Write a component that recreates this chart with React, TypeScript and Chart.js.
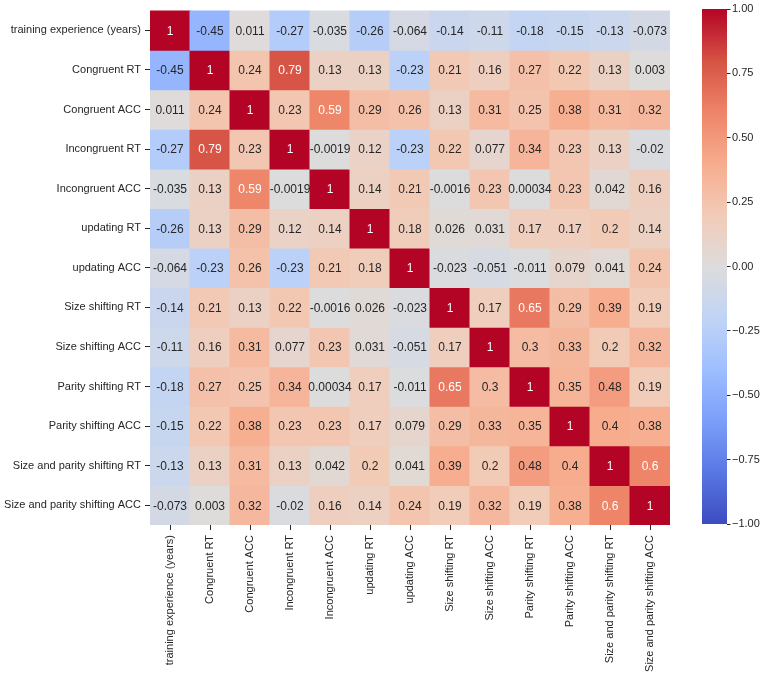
import React, { useEffect, useRef } from "react";
import { Chart, registerables } from "chart.js";
Chart.register(...registerables);

const labels = [
  "training experience (years)",
  "Congruent RT",
  "Congruent ACC",
  "Incongruent RT",
  "Incongruent ACC",
  "updating RT",
  "updating ACC",
  "Size shifting RT",
  "Size shifting ACC",
  "Parity shifting RT",
  "Parity shifting ACC",
  "Size and parity shifting RT",
  "Size and parity shifting ACC",
];

const rowTraining = [1, -0.45, 0.011, -0.27, -0.035, -0.26, -0.064, -0.14, -0.11, -0.18, -0.15, -0.13, -0.073];
const rowCongRT = [-0.45, 1, 0.24, 0.79, 0.13, 0.13, -0.23, 0.21, 0.16, 0.27, 0.22, 0.13, 0.003];
const rowCongACC = [0.011, 0.24, 1, 0.23, 0.59, 0.29, 0.26, 0.13, 0.31, 0.25, 0.38, 0.31, 0.32];
const rowIncongRT = [-0.27, 0.79, 0.23, 1, -0.0019, 0.12, -0.23, 0.22, 0.077, 0.34, 0.23, 0.13, -0.02];
const rowIncongACC = [-0.035, 0.13, 0.59, -0.0019, 1, 0.14, 0.21, -0.0016, 0.23, 0.00034, 0.23, 0.042, 0.16];
const rowUpdRT = [-0.26, 0.13, 0.29, 0.12, 0.14, 1, 0.18, 0.026, 0.031, 0.17, 0.17, 0.2, 0.14];
const rowUpdACC = [-0.064, -0.23, 0.26, -0.23, 0.21, 0.18, 1, -0.023, -0.051, -0.011, 0.079, 0.041, 0.24];
const rowSizeRT = [-0.14, 0.21, 0.13, 0.22, -0.0016, 0.026, -0.023, 1, 0.17, 0.65, 0.29, 0.39, 0.19];
const rowSizeACC = [-0.11, 0.16, 0.31, 0.077, 0.23, 0.031, -0.051, 0.17, 1, 0.3, 0.33, 0.2, 0.32];
const rowParRT = [-0.18, 0.27, 0.25, 0.34, 0.00034, 0.17, -0.011, 0.65, 0.3, 1, 0.35, 0.48, 0.19];
const rowParACC = [-0.15, 0.22, 0.38, 0.23, 0.23, 0.17, 0.079, 0.29, 0.33, 0.35, 1, 0.4, 0.38];
const rowSPRT = [-0.13, 0.13, 0.31, 0.13, 0.042, 0.2, 0.041, 0.39, 0.2, 0.48, 0.4, 1, 0.6];
const rowSPACC = [-0.073, 0.003, 0.32, -0.02, 0.16, 0.14, 0.24, 0.19, 0.32, 0.19, 0.38, 0.6, 1];

const rows = [
  rowTraining, rowCongRT, rowCongACC, rowIncongRT, rowIncongACC, rowUpdRT, rowUpdACC,
  rowSizeRT, rowSizeACC, rowParRT, rowParACC, rowSPRT, rowSPACC,
];

const coolwarmStops = [
  "#3b4cc0", "#5977e3", "#7b9ff9", "#9ebeff", "#c0d4f5", "#dddcdc",
  "#f2cbb7", "#f7ac8e", "#ee8468", "#d65244", "#b40426",
];

const FONT = '"Liberation Sans", Arial, sans-serif';
const TEXT = "#262626";

function hexToRgb(h: string) {
  return [parseInt(h.slice(1, 3), 16), parseInt(h.slice(3, 5), 16), parseInt(h.slice(5, 7), 16)];
}
function rgbOf(v: number) {
  const t = Math.max(0, Math.min(1, (v + 1) / 2));
  const pos = t * 10;
  const i = Math.min(9, Math.floor(pos));
  const f = pos - i;
  const a = hexToRgb(coolwarmStops[i]);
  const b = hexToRgb(coolwarmStops[i + 1]);
  return a.map((c, k) => Math.round(c + (b[k] - c) * f));
}
function coolwarm(v: number) {
  const [r, g, b] = rgbOf(v);
  return `rgb(${r},${g},${b})`;
}
function textColor(v: number) {
  const lin = rgbOf(v).map((c) => {
    const s = c / 255;
    return s <= 0.03928 ? s / 12.92 : Math.pow((s + 0.055) / 1.055, 2.4);
  });
  const lum = 0.2126 * lin[0] + 0.7152 * lin[1] + 0.0722 * lin[2];
  return lum > 0.408 ? TEXT : "#ffffff";
}
function fmt(v: number) {
  return String(Number(v.toPrecision(2)));
}

const annotatePlugin = {
  id: "annot",
  afterDatasetsDraw(chart: any) {
    const ctx = chart.ctx;
    ctx.save();
    ctx.font = `12px ${FONT}`;
    ctx.textAlign = "center";
    ctx.textBaseline = "middle";
    chart.data.datasets.forEach((_ds: any, r: number) => {
      const meta = chart.getDatasetMeta(r);
      meta.data.forEach((el: any, c: number) => {
        const v = rows[r][c];
        const p = el.getProps(["x", "y", "base"], true);
        ctx.fillStyle = textColor(v);
        ctx.fillText(fmt(v), p.x, (p.y + p.base) / 2 + 1);
      });
    });
    ctx.restore();
  },
};

export default function App() {
  const mainRef = useRef<HTMLCanvasElement>(null);
  const barRef = useRef<HTMLCanvasElement>(null);

  useEffect(() => {
    const datasets = rows.map((row, r) => ({
      label: labels[r],
      data: row.map(() => 1),
      backgroundColor: row.map((v) => coolwarm(v)),
      borderWidth: 0,
      barPercentage: 1,
      categoryPercentage: 1,
      inflateAmount: 0.5,
      stack: "s",
    }));

    const main = new Chart(mainRef.current as HTMLCanvasElement, {
      type: "bar",
      data: { labels, datasets } as any,
      plugins: [annotatePlugin],
      options: {
        animation: false,
        responsive: false,
        layout: { padding: { top: 9, right: 20, left: 0, bottom: 0 } },
        plugins: { legend: { display: false }, tooltip: { enabled: false } },
        scales: {
          x: {
            type: "category",
            stacked: true,
            offset: true,
            grid: { offset: false, drawOnChartArea: false, tickLength: 5, tickColor: TEXT, tickWidth: 1 },
            border: { display: false },
            ticks: {
              minRotation: 90,
              maxRotation: 90,
              autoSkip: false,
              padding: 5,
              color: TEXT,
              font: { family: FONT, size: 11 },
            },
            afterFit: (s: any) => {
              s.height = 151;
            },
          },
          y: {
            type: "linear",
            stacked: true,
            reverse: true,
            min: 0,
            max: 13,
            afterBuildTicks: (s: any) => {
              s.ticks = labels.map((_, i) => ({ value: i + 0.5 }));
            },
            grid: { drawOnChartArea: false, tickLength: 5, tickColor: TEXT, tickWidth: 1 },
            border: { display: false },
            ticks: {
              autoSkip: false,
              padding: 4,
              color: TEXT,
              font: { family: FONT, size: 11 },
              callback: (v: any) => labels[Math.floor(Number(v))],
            },
            afterFit: (s: any) => {
              s.width = 150;
            },
          },
        },
      } as any,
    });

    const bar = new Chart(barRef.current as HTMLCanvasElement, {
      type: "bar",
      data: {
        labels: [""],
        datasets: [
          {
            data: [[-1, 1]],
            borderWidth: 0,
            barPercentage: 1,
            categoryPercentage: 1,
            backgroundColor: (ctx: any) => {
              const area = ctx.chart.chartArea;
              if (!area) return "#dddcdc";
              const g = ctx.chart.ctx.createLinearGradient(0, area.bottom, 0, area.top);
              coolwarmStops.forEach((c, i) => g.addColorStop(i / 10, c));
              return g;
            },
          },
        ],
      } as any,
      options: {
        animation: false,
        responsive: false,
        layout: { padding: { top: 9, bottom: 152, left: 12, right: 0 } },
        plugins: { legend: { display: false }, tooltip: { enabled: false } },
        scales: {
          x: { display: false },
          y: {
            position: "right",
            min: -1,
            max: 1,
            grid: { drawOnChartArea: false, tickLength: 3.5, tickColor: TEXT, tickWidth: 1 },
            border: { display: false },
            ticks: {
              stepSize: 0.25,
              padding: 1.5,
              color: TEXT,
              font: { family: FONT, size: 11 },
              callback: (v: any) => Number(v).toFixed(2).replace("-", "\u2212"),
            },
            afterFit: (s: any) => {
              s.width = 40;
            },
          },
        },
      } as any,
    });

    return () => {
      main.destroy();
      bar.destroy();
    };
  }, []);

  return (
    <div style={{ position: "absolute", left: 0, top: 0, width: 767, height: 676, background: "#fff" }}>
      <canvas
        ref={mainRef}
        width={690}
        height={676}
        style={{ position: "absolute", left: 0, top: 0, width: 690, height: 676 }}
      />
      <canvas
        ref={barRef}
        width={77}
        height={676}
        style={{ position: "absolute", left: 690, top: 0, width: 77, height: 676 }}
      />
    </div>
  );
}
